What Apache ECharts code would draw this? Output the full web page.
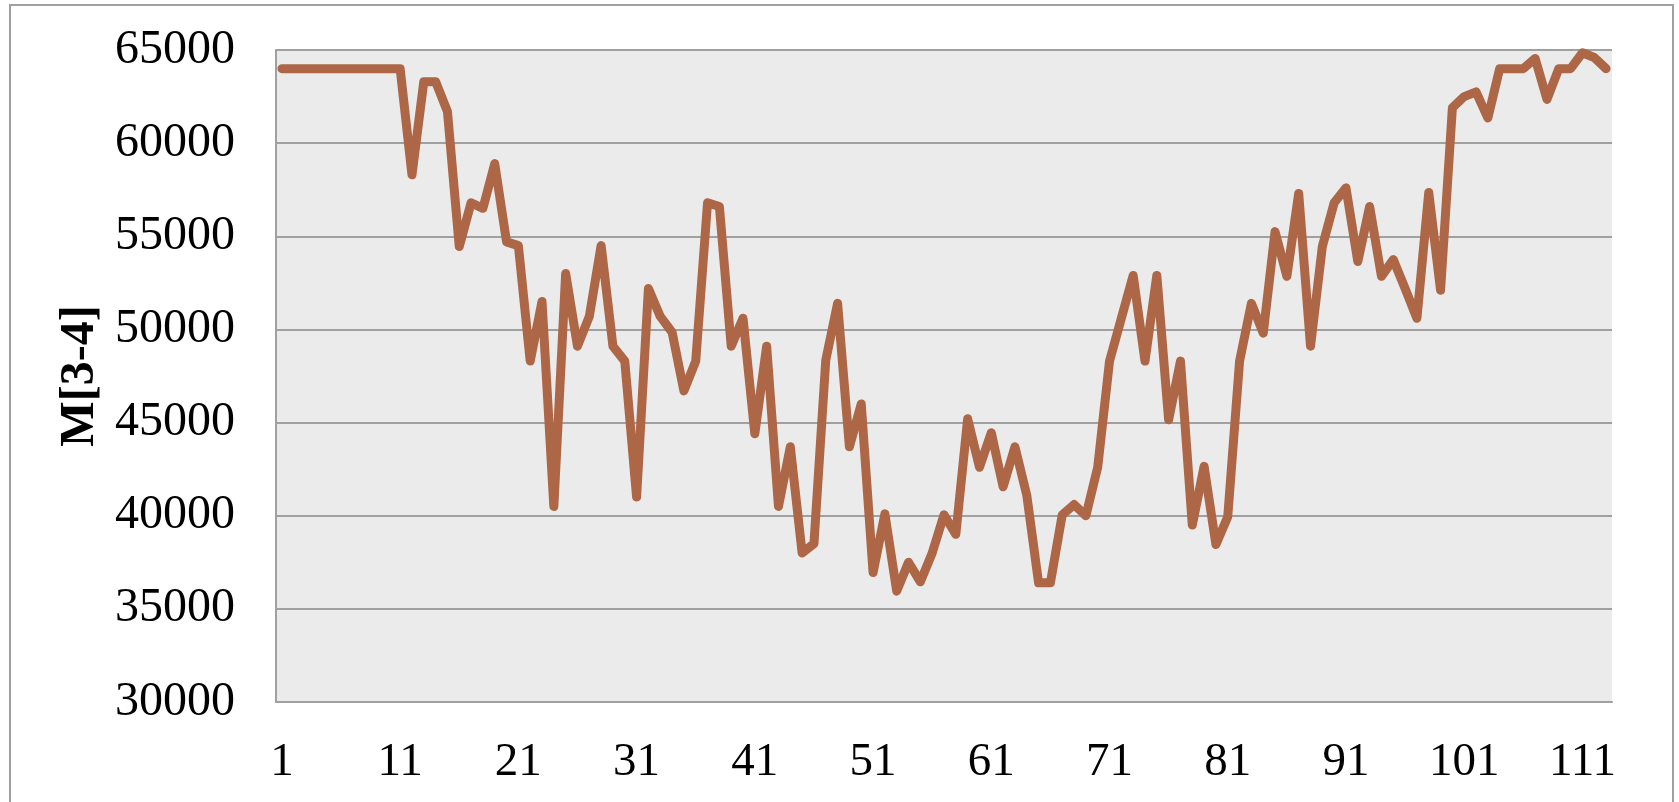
<!DOCTYPE html>
<html>
<head>
<meta charset="utf-8">
<script src="https://cdn.jsdelivr.net/npm/echarts@6/dist/echarts.min.js"></script>
<style>
html,body{margin:0;padding:0;background:#fff;}
#c{width:1679px;height:802px;}
</style>
</head>
<body>
<div id="c"></div>
<script>
// Data
const categories = [];
for (let i = 1; i <= 113; i++) categories.push(String(i));

const values = [
  64000, 64000, 64000, 64000, 64000, 64000, 64000, 64000, 64000, 64000,
  64000, 58300, 63300, 63300, 61700, 54450, 56800, 56500, 58900, 54700,
  54500, 48300, 51500, 40500, 53000, 49100, 50700, 54500, 49100, 48300,
  41000, 52200, 50700, 49850, 46700, 48300, 56800, 56600, 49100, 50600,
  44400, 49100, 40500, 43700, 38000, 38500, 48350, 51400, 43700, 46000,
  36950, 40100, 35950, 37500, 36450, 38000, 40050, 39000, 45200, 42600,
  44450, 41550, 43700, 41100, 36400, 36400, 40050, 40600, 40000, 42600,
  48300, 50600, 52900, 48300, 52900, 45150, 48300, 39500, 42650, 38450,
  39950, 48300, 51400, 49800, 55250, 52850, 57300, 49100, 54450, 56800,
  57600, 53650, 56600, 52850, 53750, 52200, 50600, 57350, 52100, 61900,
  62500, 62750, 61350, 64000, 64000, 64000, 64550, 62350, 64000, 64000,
  64850, 64600, 64000
];

const yTitle = 'M[3-4]';
const yMin = 30000, yMax = 65000, yStep = 5000;

const chart = echarts.init(document.getElementById('c'), null, {renderer: 'canvas'});
const font = "'Liberation Serif', 'Times New Roman', serif";
chart.setOption({
  animation: false,
  backgroundColor: '#ffffff',
  graphic: [{
    type: 'rect',
    shape: {x: 10, y: 5, width: 1663, height: 830},
    style: {fill: 'none', stroke: '#A0A0A0', lineWidth: 2},
    silent: true, z: -1
  }],
  grid: {
    left: 276, right: 67, top: 50, bottom: 100,
    show: true, backgroundColor: '#EBEBEB', borderWidth: 0
  },
  xAxis: {
    type: 'category',
    data: categories,
    boundaryGap: true,
    axisLine: {show: true, lineStyle: {color: '#A0A0A0', width: 2}},
    axisTick: {show: false},
    axisLabel: {
      interval: 9, margin: 37, color: '#000',
      fontFamily: font, fontSize: 47
    },
    splitLine: {show: false}
  },
  yAxis: {
    type: 'value',
    min: yMin, max: yMax, interval: yStep,
    name: yTitle,
    nameLocation: 'middle',
    nameRotate: 90,
    nameGap: 153,
    nameTextStyle: {fontFamily: font, fontSize: 48, fontWeight: 'bold', color: '#000'},
    axisLine: {show: true, lineStyle: {color: '#A0A0A0', width: 2}},
    axisTick: {show: false},
    axisLabel: {
      margin: 41, color: '#000', fontFamily: font, fontSize: 48,
      formatter: function (v) { return String(v); }
    },
    splitLine: {show: true, lineStyle: {color: '#A0A0A0', width: 2}}
  },
  series: [{
    type: 'line',
    data: values,
    symbol: 'none',
    lineStyle: {color: '#AD6747', width: 9, cap: 'round', join: 'round'},
    z: 3
  }]
});
</script>
</body>
</html>
